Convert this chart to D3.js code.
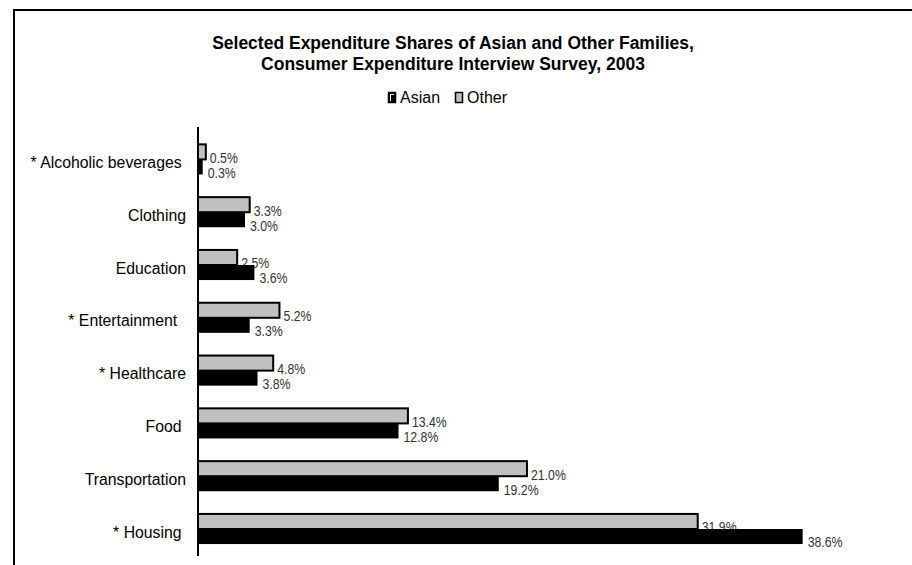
<!DOCTYPE html>
<html>
<head>
<meta charset="utf-8">
<script src="https://cdn.jsdelivr.net/npm/d3@7"></script>
<style>
body { margin: 0; background: #fff; }
</style>
</head>
<body>
<div id="root"></div>
<script>
var width = 912;
var height = 565;

// data, top to bottom
var categories = ["* Alcoholic beverages ", "Clothing", "Education", "* Entertainment  ", "* Healthcare", "Food ", "Transportation", "* Housing "];
var asian = [0.3, 3.0, 3.6, 3.3, 3.8, 12.8, 19.2, 38.6];
var other = [0.5, 3.3, 2.5, 5.2, 4.8, 13.4, 21.0, 31.9];
var seriesNames = ["Asian", "Other"];
var titleLines = ["Selected Expenditure Shares of Asian and Other Families,", "Consumer Expenditure Interview Survey, 2003"];

var svg = d3.select("#root")
.append("svg")
.attr("width", width)
.attr("height", height)
.style("font-family", "'Liberation Sans', Arial, sans-serif");

// outer frame (only top and left show in the picture)
svg.append("path")
.attr("d", "M14,565 V10 H912")
.attr("fill", "none")
.attr("stroke", "#000")
.attr("stroke-width", 2);

// title
svg.append("g")
.selectAll("text")
.data(titleLines)
.enter()
.append("text")
.attr("x", 453)
.attr("y", function(d, i) { return 49 + i * 21; })
.attr("text-anchor", "middle")
.attr("font-size", "17.5px")
.attr("font-weight", "bold")
.text(function(d) { return d; });

var x = d3.scaleLinear()
.domain([0, 40])
.range([198, 198 + 40 * 15.665]);

var y = d3.scaleBand()
.domain(categories)
.range([133, 555.4])
.paddingInner(0.43)
.paddingOuter(0.215);

var barH = y.bandwidth() / 2;

function pct(v) { return v.toFixed(1) + "%"; }

var rows = categories.map(function(c, i) { return { cat: c, asian: asian[i], other: other[i] }; });

// narrow looking value label
function valueLabel(sel, xf, yf, tf) {
	sel.append("text")
	.attr("transform", function(d) { return "translate(" + xf(d) + "," + yf(d) + ") scale(0.82,1)"; })
	.attr("dominant-baseline", "central")
	.attr("font-size", "15px")
	.attr("fill", "#333")
	.text(tf);
}

// Other bars first, then their labels, then Asian bars over them
svg.append("g")
.selectAll("rect")
.data(rows)
.enter()
.append("rect")
.attr("x", x(0))
.attr("y", function(d) { return y(d.cat); })
.attr("width", function(d) { return x(d.other) - x(0); })
.attr("height", barH)
.attr("fill", "#c0c0c0")
.attr("stroke", "#000")
.attr("stroke-width", 2);

svg.append("g")
.selectAll("g")
.data(rows)
.enter()
.call(valueLabel,
	function(d) { return x(d.other) + 4; },
	function(d) { return y(d.cat) + barH / 2 + 6; },
	function(d) { return pct(d.other); });

svg.append("g")
.selectAll("rect")
.data(rows)
.enter()
.append("rect")
.attr("x", x(0))
.attr("y", function(d) { return y(d.cat) + barH; })
.attr("width", function(d) { return x(d.asian) - x(0); })
.attr("height", barH)
.attr("fill", "#000");

svg.append("g")
.selectAll("g")
.data(rows)
.enter()
.call(valueLabel,
	function(d) { return x(d.asian) + 5; },
	function(d) { return y(d.cat) + barH * 1.5 + 6; },
	function(d) { return pct(d.asian); });

// category axis line + labels
svg.append("line")
.attr("x1", x(0))
.attr("x2", x(0))
.attr("y1", 127)
.attr("y2", 556)
.attr("stroke", "#000")
.attr("stroke-width", 2);

svg.append("g")
.selectAll("text")
.data(categories)
.enter()
.append("text")
.attr("x", 186)
.attr("y", function(d) { return y(d) + y.bandwidth() / 2 + 3; })
.attr("text-anchor", "end")
.attr("dominant-baseline", "central")
.attr("font-size", "15.8px")
.style("white-space", "pre")
.text(function(d) { return d; });

// legend
var legend = svg.append("g").attr("transform", "translate(388,92)");
var legendX = [0, 67];

legend.selectAll("rect.key")
.data(seriesNames)
.enter()
.append("rect")
.attr("class", "key")
.attr("x", function(d, i) { return legendX[i] + 0.5; })
.attr("y", 0.5)
.attr("width", 7)
.attr("height", 10)
.attr("fill", function(d, i) { return i == 0 ? "#000" : "#c0c0c0"; })
.attr("stroke", "#000")
.attr("stroke-width", 1.5);

// little white highlight in the Asian key
legend.append("path")
.attr("d", "M2.5,9 V2.5 H6")
.attr("fill", "none")
.attr("stroke", "#fff")
.attr("stroke-width", 1);

legend.selectAll("text")
.data(seriesNames)
.enter()
.append("text")
.attr("x", function(d, i) { return legendX[i] + 12; })
.attr("y", 5.5)
.attr("dominant-baseline", "central")
.attr("font-size", "16px")
.text(function(d) { return d; });
</script>
</body>
</html>
